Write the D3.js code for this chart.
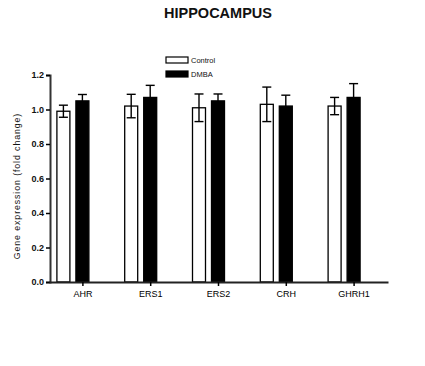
<!DOCTYPE html>
<html><head><meta charset="utf-8">
<script src="https://cdn.jsdelivr.net/npm/d3@7"></script>
<style>body{margin:0;background:#fff}svg{display:block}text{font-family:"Liberation Sans",Arial,sans-serif}</style>
</head><body>
<svg id="c" width="425" height="366"></svg>
<script>
const categories = ["AHR","ERS1","ERS2","CRH","GHRH1"];
const series = ["Control","DMBA"];
const controlMean = [0.99,1.02,1.01,1.03,1.02];
const controlErr  = [0.035,0.068,0.08,0.10,0.05];
const dmbaMean    = [1.05,1.07,1.05,1.02,1.07];
const dmbaErr     = [0.037,0.07,0.04,0.063,0.08];
const yTicks = [0,0.2,0.4,0.6,0.8,1.0,1.2];

const svg = d3.select("#c");
const x0 = d3.scaleBand().domain(categories).range([49,388]);
const x1 = d3.scaleBand().domain(series).range([-26,6]).paddingInner(0.316);
const y = d3.scaleLinear().domain([0,1.2]).range([282,75]);
const center = c => x0(c) + x0.bandwidth()/2;

const data = [];
categories.forEach((c,i)=>{
  data.push({c, s:"Control", v:controlMean[i], e:controlErr[i]});
  data.push({c, s:"DMBA", v:dmbaMean[i], e:dmbaErr[i]});
});

// bars
svg.selectAll("rect.bar").data(data).enter().append("rect")
  .attr("x", d=>center(d.c)+x1(d.s))
  .attr("y", d=>y(d.v))
  .attr("width", x1.bandwidth())
  .attr("height", d=>y(0)-y(d.v))
  .attr("fill", d=>d.s==="Control"?"#fff":"#000")
  .attr("stroke","#000").attr("stroke-width",1.3);

// error bars
const capW = 9;
data.forEach(d=>{
  const cx = center(d.c)+x1(d.s)+x1.bandwidth()/2;
  const g = svg.append("g").attr("stroke","#000").attr("stroke-width",1.4);
  g.append("line").attr("x1",cx).attr("x2",cx).attr("y1",y(d.v+d.e)).attr("y2",y(d.v-d.e));
  g.append("line").attr("x1",cx-capW/2).attr("x2",cx+capW/2).attr("y1",y(d.v+d.e)).attr("y2",y(d.v+d.e));
  g.append("line").attr("x1",cx-capW/2).attr("x2",cx+capW/2).attr("y1",y(d.v-d.e)).attr("y2",y(d.v-d.e));
});

// y axis
const ya = svg.append("g").attr("transform","translate(50,0)")
  .call(d3.axisLeft(y).tickValues(yTicks).tickFormat(d3.format(".1f")).tickSize(4).tickPadding(2));
ya.select(".domain").attr("stroke","#333").attr("stroke-width",2);
ya.selectAll(".tick line").attr("stroke","#000").attr("stroke-width",1.5);
ya.selectAll(".tick text").attr("font-size",9).attr("font-weight","bold").attr("fill","#111").attr("font-family","Liberation Sans, Arial, sans-serif");

// x axis
const xa = svg.append("g").attr("transform","translate(0,282)")
  .call(d3.axisBottom(x0).tickSize(4).tickSizeOuter(0).tickPadding(5));
xa.select(".domain").attr("stroke","#222").attr("stroke-width",2);
xa.selectAll(".tick line").attr("stroke","#000").attr("stroke-width",1.5);
xa.selectAll(".tick text").attr("font-size",9).attr("fill","#000").attr("font-family","Liberation Sans, Arial, sans-serif");

// y label
svg.append("text").attr("transform","translate(20,186) rotate(-90)")
  .attr("text-anchor","middle").attr("font-size",8.8).attr("fill","#111")
  .attr("letter-spacing",0.9)
  .text("Gene expression (fold change)");

// title
svg.append("text").attr("x",218).attr("y",18).attr("text-anchor","middle")
  .attr("font-size",14.5).attr("font-weight","bold").attr("fill","#111")
  .text("HIPPOCAMPUS");

// legend
const leg = svg.append("g");
series.forEach((s,i)=>{
  const ly = 57 + i*14;
  leg.append("rect").attr("x",166).attr("y",ly).attr("width",22).attr("height",6)
    .attr("fill", s==="Control"?"#fff":"#000").attr("stroke","#000").attr("stroke-width",1.2);
  leg.append("text").attr("x",191).attr("y",ly+6).attr("font-size",7.5).attr("fill","#111").text(s);
});
</script>
</body></html>
